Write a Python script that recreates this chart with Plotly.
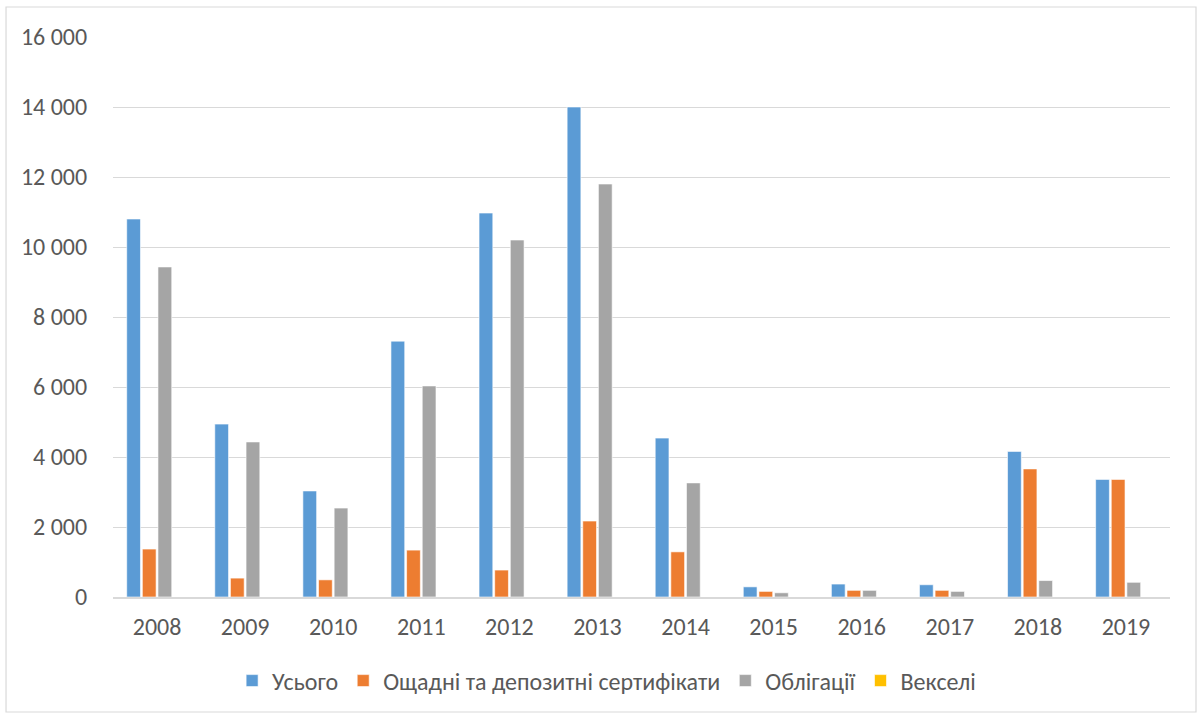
import plotly.graph_objects as go

years = ["2008", "2009", "2010", "2011", "2012", "2013", "2014", "2015", "2016", "2017", "2018", "2019"]
total = [10800, 4940, 3030, 7310, 10970, 14000, 4540, 290, 370, 350, 4160, 3360]
certificates = [1370, 540, 490, 1340, 770, 2170, 1290, 160, 190, 190, 3660, 3360]
bonds = [9430, 4430, 2540, 6030, 10200, 11800, 3260, 120, 190, 160, 470, 420]
bills = [0, 0, 0, 0, 0, 0, 0, 0, 0, 0, 0, 0]

series = [
    ("Усього", total, "#5B9BD5"),
    ("Ощадні та депозитні сертифікати", certificates, "#ED7D31"),
    ("Облігації", bonds, "#A5A5A5"),
    ("Векселі", bills, "#FFC000"),
]

tick_vals = [0, 2000, 4000, 6000, 8000, 10000, 12000, 14000, 16000]
tick_text = ["0", "2 000", "4 000", "6 000", "8 000", "10 000", "12 000", "14 000", "16 000"]

FONT = "Carlito, Lato, 'Liberation Sans', sans-serif"
TEXT = "#595959"

fig = go.Figure()
for name, vals, color in series:
    fig.add_trace(go.Bar(
        x=years, y=vals, name=name,
        marker=dict(color=color, line=dict(color="white", width=0.6)),
    ))

fig.update_layout(
    width=1203, height=716,
    barmode="group", bargap=0.29, bargroupgap=0.12,
    paper_bgcolor="white", plot_bgcolor="white",
    margin=dict(l=113, r=33, t=37, b=119, autoexpand=False),
    font=dict(family=FONT, size=24, color=TEXT),
    showlegend=True,
    legend=dict(orientation="h", x=0.467, xanchor="center", y=-0.15, yanchor="middle",
                font=dict(size=24, color=TEXT), itemwidth=30, traceorder="normal",
                itemclick=False),
    xaxis=dict(showgrid=False, showline=True, linecolor="#D9D9D9", linewidth=2,
               ticks="outside", ticklen=7, tickcolor="rgba(0,0,0,0)",
               tickfont=dict(size=24, color=TEXT)),
    yaxis=dict(range=[0, 16000], tickvals=tick_vals, ticktext=tick_text,
               showgrid=True, gridcolor="#D9D9D9", gridwidth=1.2, zeroline=False,
               ticks="outside", ticklen=20, tickcolor="rgba(0,0,0,0)",
               tickfont=dict(size=24, color=TEXT)),
    shapes=[dict(type="rect", xref="paper", yref="paper",
                 x0=-0.1012, x1=1.0246, y0=-0.2054, y1=1.0536,
                 line=dict(color="#D9D9D9", width=1.2), fillcolor="rgba(0,0,0,0)")],
)

fig.write_html("out.html")
